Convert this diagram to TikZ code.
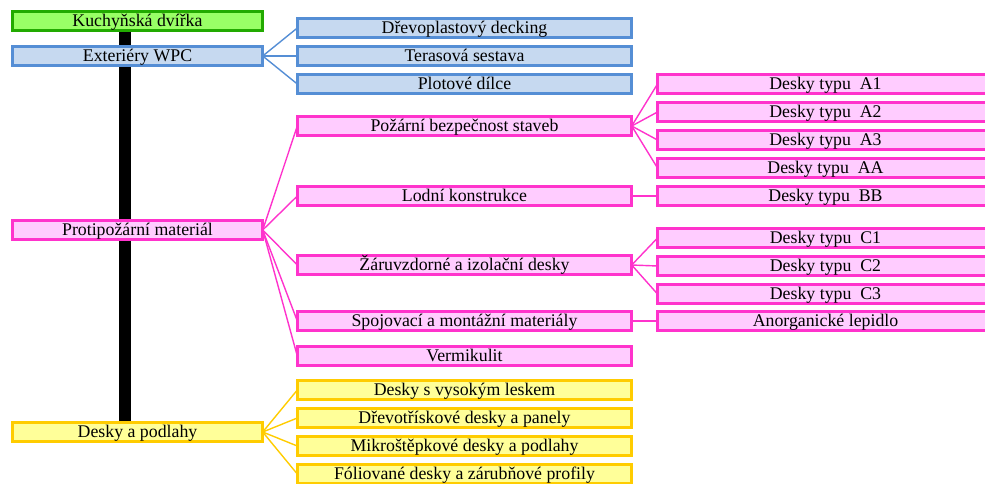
\documentclass[tikz,border=0pt]{standalone}
\usepackage{fontspec}
\setmainfont{Liberation Serif}
\usetikzlibrary{backgrounds}

\definecolor{grFill}{RGB}{153,255,102}
\definecolor{grLine}{RGB}{34,170,0}
\definecolor{blFill}{RGB}{198,217,240}
\definecolor{blLine}{RGB}{85,142,213}
\definecolor{pkFill}{RGB}{255,204,255}
\definecolor{pkLine}{RGB}{255,51,204}
\definecolor{ylFill}{RGB}{255,255,153}
\definecolor{ylLine}{RGB}{255,204,0}

\tikzset{
  box/.style={draw, line width=2.6pt, rectangle, inner sep=0pt, outer sep=0pt,
    minimum height=19.4pt, text=black, text height=11.8pt, text depth=0pt,
    font=\fontsize{17.8}{18}\selectfont},
  lbox/.style={box, minimum width=250.4pt},
  mbox/.style={box, minimum width=334.4pt},
  rbox/.style={box, minimum width=336pt},
  green/.style={fill=grFill, draw=grLine},
  blue/.style={fill=blFill, draw=blLine},
  pink/.style={fill=pkFill, draw=pkLine},
  yellow/.style={fill=ylFill, draw=ylLine},
  link/.style={line width=1.4pt},
  bar/.style={line width=12pt, draw=black}
}

\begin{document}
\begin{tikzpicture}[x=1pt, y=-1pt]
  \useasboundingbox (0,0) rectangle (985,483);

  % left column: main categories
  \node[lbox, green]  (kd) at (137.5,21)  {Kuchyňská dvířka};
  \node[lbox, blue]   (ex) at (137.5,56)  {Exteriéry WPC};
  \node[lbox, pink]   (pm) at (137.5,230) {Protipožární materiál};
  \node[lbox, yellow] (dp) at (137.5,432) {Desky a podlahy};

  % middle column
  \node[mbox, blue] (b1) at (464.5,28) {Dřevoplastový decking};
  \node[mbox, blue] (b2) at (464.5,56) {Terasová sestava};
  \node[mbox, blue] (b3) at (464.5,84) {Plotové dílce};

  \node[mbox, pink] (p1) at (464.5,126) {Požární bezpečnost staveb};
  \node[mbox, pink] (p2) at (464.5,196) {Lodní konstrukce};
  \node[mbox, pink] (p3) at (464.5,265) {Žáruvzdorné a izolační desky};
  \node[mbox, pink] (p4) at (464.5,321) {Spojovací a montážní materiály};
  \node[mbox, pink] (p5) at (464.5,356) {Vermikulit};

  \node[mbox, yellow] (y1) at (464.5,390) {Desky s vysokým leskem};
  \node[mbox, yellow] (y2) at (464.5,418) {Dřevotřískové desky a panely};
  \node[mbox, yellow] (y3) at (464.5,446) {Mikroštěpkové desky a podlahy};
  \node[mbox, yellow] (y4) at (464.5,474) {Fóliované desky a zárubňové profily};

  % right column
  \node[rbox, pink] (a1) at (825.5,84)  {Desky typu\ \ A1};
  \node[rbox, pink] (a2) at (825.5,112) {Desky typu\ \ A2};
  \node[rbox, pink] (a3) at (825.5,140) {Desky typu\ \ A3};
  \node[rbox, pink] (aa) at (825.5,168) {Desky typu\ \ AA};
  \node[rbox, pink] (bb) at (825.5,196) {Desky typu\ \ BB};
  \node[rbox, pink] (c1) at (825.5,238) {Desky typu\ \ C1};
  \node[rbox, pink] (c2) at (825.5,266) {Desky typu\ \ C2};
  \node[rbox, pink] (c3) at (825.5,294) {Desky typu\ \ C3};
  \node[rbox, pink] (al) at (825.5,321) {Anorganické lepidlo};

  % connectors
  \foreach \c in {b1,b2,b3} \draw[link, blLine] (ex.east) -- (\c.west);
  \foreach \c in {p1,p2,p3,p4,p5} \draw[link, pkLine] (pm.east) -- (\c.west);
  \foreach \c in {a1,a2,a3,aa} \draw[link, pkLine] (p1.east) -- (\c.west);
  \draw[link, pkLine] (p2.east) -- (bb.west);
  \foreach \c in {c1,c2,c3} \draw[link, pkLine] (p3.east) -- (\c.west);
  \draw[link, pkLine] (p4.east) -- (al.west);
  \foreach \c in {y1,y2,y3,y4} \draw[link, ylLine] (dp.east) -- (\c.west);

  % vertical spine behind the main categories
  \begin{pgfonlayer}{background}
    \coordinate (sx) at (125,0);
    \draw[bar] (kd.south -| sx) -- (dp.north -| sx);
  \end{pgfonlayer}
\end{tikzpicture}
\end{document}
